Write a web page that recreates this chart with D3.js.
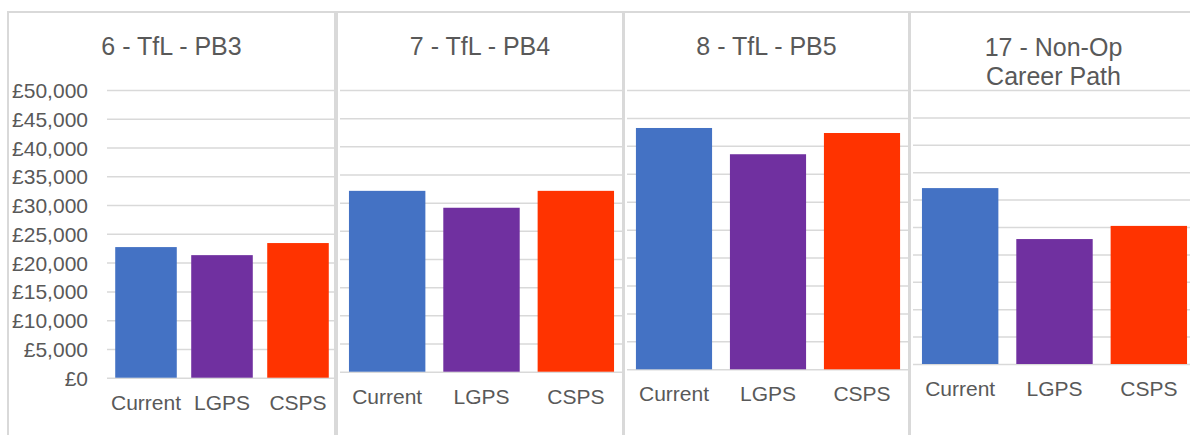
<!DOCTYPE html>
<html>
<head>
<meta charset="utf-8">
<script src="https://cdn.jsdelivr.net/npm/d3@7"></script>
<style>
  body { margin: 0; background: #fff; }
  svg { display: block; font-family: "Liberation Sans", Arial, sans-serif; }
</style>
</head>
<body>
<div id="chart"></div>
<script>
// data
const categories = ["Current", "LGPS", "CSPS"];
const panelTitles = [["6 - TfL - PB3"], ["7 - TfL - PB4"], ["8 - TfL - PB5"], ["17 - Non-Op", "Career Path"]];
const currentValues = [22700, 32100, 43200, 32100];
const lgpsValues = [21300, 29100, 38500, 22800];
const cspsValues = [23400, 32100, 42300, 25200];
const yTicks = [0, 5000, 10000, 15000, 20000, 25000, 30000, 35000, 40000, 45000, 50000];
const colors = ["#4472c4", "#7030a0", "#ff3300"];

const width = 1190, height = 435;
const textColor = "#595959", lineColor = "#d9d9d9";

// each panel was pasted as its own chart, so the frames differ a little
const panels = [
  { fx0: 8,   fx1: 335,  px0: 107, px1: 335,  bx0: 108, bx1: 336,  y0: 377.7, showY: true },
  { fx0: 337, fx1: 623,  px0: 340, px1: 623,  bx0: 340, bx1: 623,  y0: 371.7 },
  { fx0: 624, fx1: 909,  px0: 627, px1: 909,  bx0: 627, bx1: 909,  y0: 369.3 },
  { fx0: 910, fx1: 1197, px0: 913, px1: 1190, bx0: 913, bx1: 1196, y0: 364 }
];
const yTop = 90;

const svg = d3.select("#chart").append("svg")
  .attr("width", width)
  .attr("height", height);

panels.forEach((p, i) => {
  const values = [currentValues[i], lgpsValues[i], cspsValues[i]];
  const g = svg.append("g").attr("class", "panel");

  // frame
  g.append("rect")
    .attr("x", p.fx0)
    .attr("y", 12)
    .attr("width", p.fx1 - p.fx0)
    .attr("height", height + 20)
    .attr("fill", "none")
    .attr("stroke", lineColor)
    .attr("stroke-width", 2);

  const x = d3.scaleBand()
    .domain(categories)
    .range([p.bx0, p.bx1])
    .paddingInner(0.19)
    .paddingOuter(0.095);

  const y = d3.scaleLinear().domain([0, 50000]).range([p.y0, yTop]);

  // gridlines
  const axisY = d3.axisLeft(y)
    .tickValues(yTicks)
    .tickSize(-(p.px1 - p.px0))
    .tickFormat(p.showY ? (d => "£" + d3.format(",")(d)) : "");

  const yAxisNode = g.append("g")
    .attr("class", "axis-y")
    .attr("transform", `translate(${p.px0},0)`)
    .call(axisY);
  yAxisNode.select(".domain").remove();
  yAxisNode.selectAll("line")
    .attr("stroke", lineColor)
    .attr("stroke-width", 1.5);
  yAxisNode.selectAll("text")
    .attr("x", -19)
    .attr("fill", textColor)
    .style("font-size", "21px")
    .attr("dy", "0.36em");

  // bars
  g.selectAll(".bar")
    .data(values)
    .enter()
    .append("rect")
    .attr("class", "bar")
    .attr("x", (d, j) => x(categories[j]))
    .attr("width", x.bandwidth())
    .attr("y", d => y(d))
    .attr("height", d => y(0) - y(d))
    .attr("fill", (d, j) => colors[j]);

  // category labels
  const axisX = d3.axisBottom(x).tickSize(0).tickPadding(0);
  const xAxisNode = g.append("g")
    .attr("class", "axis-x")
    .attr("transform", `translate(0,${p.y0})`)
    .call(axisX);
  xAxisNode.select(".domain").remove();
  xAxisNode.selectAll("text")
    .attr("y", 32)
    .attr("dy", 0)
    .attr("fill", textColor)
    .style("font-size", "21px");

  // title
  const t = g.append("text")
    .attr("x", (p.fx0 + p.fx1) / 2)
    .attr("y", panelTitles[i].length > 1 ? 56 : 55)
    .attr("text-anchor", "middle")
    .attr("fill", textColor)
    .style("font-size", "25px");
  panelTitles[i].forEach((line, k) => {
    t.append("tspan")
      .attr("x", (p.fx0 + p.fx1) / 2)
      .attr("dy", k === 0 ? 0 : 29)
      .text(line);
  });
});
</script>
</body>
</html>
